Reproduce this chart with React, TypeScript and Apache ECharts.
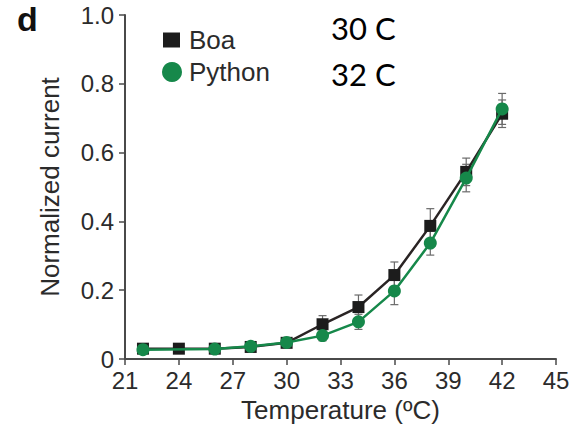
import React, { useEffect, useRef } from "react";
import * as echarts from "echarts";

const tempsBoa = [22, 24, 26, 28, 30, 32, 34, 36, 38, 40, 42];
const boaValues = [0.03, 0.03, 0.03, 0.035, 0.047, 0.101, 0.151, 0.244, 0.387, 0.544, 0.713];
const boaErrors = [0.008, 0.006, 0.006, 0.008, 0.01, 0.025, 0.035, 0.038, 0.05, 0.04, 0.04];

const tempsPython = [22, 26, 28, 30, 32, 34, 36, 38, 40, 42];
const pythonValues = [0.027, 0.029, 0.037, 0.048, 0.068, 0.108, 0.198, 0.337, 0.526, 0.727];
const pythonErrors = [0.008, 0.006, 0.01, 0.014, 0.015, 0.022, 0.04, 0.035, 0.04, 0.045];

const seriesNames = ["Boa", "Python"];
const annotations = ["30 C", "32 C"];
const xAxisTitle = "Temperature (ºC)";
const yAxisTitle = "Normalized current";
const panelLabel = "d";

const FONT = "'Liberation Sans', Arial, Helvetica, sans-serif";
const TEXT = "#2b2b2b";
const BLACK = "#1c1c1c";
const GREEN = "#16884a";

function errorSeries(xs: number[], ys: number[], es: number[], z: number) {
  return {
    type: "custom",
    z,
    silent: true,
    data: xs.map((x, i) => [x, ys[i], es[i]]),
    renderItem: (params: any, api: any) => {
      const x = api.value(0);
      const y = api.value(1);
      const e = api.value(2);
      const top = api.coord([x, y + e]);
      const bot = api.coord([x, y - e]);
      const cw = 4;
      const style = { stroke: "#6a6a6a", lineWidth: 1.2 };
      return {
        type: "group",
        children: [
          { type: "line", shape: { x1: top[0], y1: top[1], x2: bot[0], y2: bot[1] }, style },
          { type: "line", shape: { x1: top[0] - cw, y1: top[1], x2: top[0] + cw, y2: top[1] }, style },
          { type: "line", shape: { x1: bot[0] - cw, y1: bot[1], x2: bot[0] + cw, y2: bot[1] }, style },
        ],
      };
    },
  };
}

export default function App() {
  const ref = useRef<HTMLDivElement>(null);
  useEffect(() => {
    if (!ref.current) return;
    const chart = echarts.init(ref.current, undefined, { renderer: "svg" });
    chart.setOption({
      animation: false,
      backgroundColor: "#ffffff",
      grid: { left: 125, right: 30, top: 15, bottom: 79 },
      legend: [
        {
          data: [{ name: seriesNames[0], icon: "rect" }],
          left: 163,
          top: 27,
          padding: 0,
          itemWidth: 17,
          itemHeight: 15,
          textStyle: { fontFamily: FONT, fontSize: 26, color: TEXT, padding: [0, 0, 0, 4] },
        },
        {
          data: [{ name: seriesNames[1], icon: "circle" }],
          left: 162,
          top: 59,
          padding: 0,
          itemWidth: 20,
          itemHeight: 20,
          textStyle: { fontFamily: FONT, fontSize: 26, color: TEXT, padding: [0, 0, 0, 2] },
        },
      ],
      xAxis: {
        type: "value",
        min: 21,
        max: 45,
        interval: 3,
        name: xAxisTitle,
        nameLocation: "middle",
        nameGap: 38,
        nameTextStyle: { fontFamily: FONT, fontSize: 26, color: TEXT },
        axisLine: { lineStyle: { color: "#4a4a4a", width: 2 } },
        axisTick: { length: 6, lineStyle: { color: "#4a4a4a", width: 1.5 } },
        axisLabel: { fontFamily: FONT, fontSize: 24, color: TEXT, margin: 9 },
        splitLine: { show: false },
      },
      yAxis: {
        type: "value",
        min: 0,
        max: 1,
        interval: 0.2,
        name: yAxisTitle,
        nameLocation: "middle",
        nameGap: 62,
        nameTextStyle: { fontFamily: FONT, fontSize: 26, color: TEXT },
        axisLine: { show: true, lineStyle: { color: "#4a4a4a", width: 2 } },
        axisTick: { show: true, length: 6, lineStyle: { color: "#4a4a4a", width: 1.5 } },
        axisLabel: {
          fontFamily: FONT,
          fontSize: 24,
          color: TEXT,
          margin: 11,
          formatter: (v: number) => (v === 0 ? "0" : v.toFixed(1)),
        },
        splitLine: { show: false },
      },
      series: [
        errorSeries(tempsBoa, boaValues, boaErrors, 1),
        errorSeries(tempsPython, pythonValues, pythonErrors, 1),
        {
          name: seriesNames[0],
          type: "line",
          z: 3,
          data: tempsBoa.map((t, i) => [t, boaValues[i]]),
          symbol: "rect",
          symbolSize: 12,
          showSymbol: true,
          lineStyle: { color: "#2a2424", width: 2.5 },
          itemStyle: { color: BLACK },
        },
        {
          name: seriesNames[1],
          type: "line",
          z: 4,
          data: tempsPython.map((t, i) => [t, pythonValues[i]]),
          symbol: "circle",
          symbolSize: 13,
          showSymbol: true,
          lineStyle: { color: GREEN, width: 2.5 },
          itemStyle: { color: GREEN },
        },
      ],
      graphic: [
        {
          type: "text",
          left: 17,
          top: 2,
          style: { text: panelLabel, font: `bold 34px ${FONT}`, fill: "#111" },
        },
        {
          type: "text",
          x: 331,
          y: 28,
          style: {
            text: annotations[0],
            font: "31px Lato, 'Open Sans', sans-serif",
            fill: "#000",
            verticalAlign: "middle",
          },
        },
        {
          type: "text",
          x: 331,
          y: 74,
          style: {
            text: annotations[1],
            font: "31px Lato, 'Open Sans', sans-serif",
            fill: "#000",
            verticalAlign: "middle",
          },
        },
      ],
    });
    return () => chart.dispose();
  }, []);
  return (
    <div
      ref={ref}
      style={{ position: "fixed", left: 0, top: 0, width: 586, height: 438 }}
    />
  );
}
